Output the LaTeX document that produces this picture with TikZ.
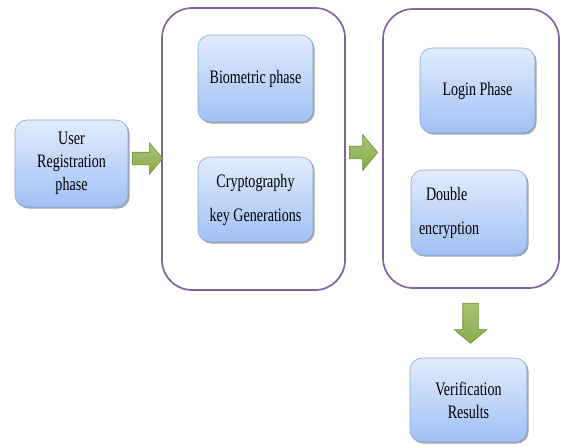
\documentclass[tikz,border=0pt]{standalone}
\usepackage{fontspec}
\newfontfamily\diagfont[FakeStretch=0.74]{Liberation Serif}
\usetikzlibrary{shapes.arrows,shadows}
\definecolor{boxtop}{RGB}{226,236,252}
\definecolor{boxbot}{RGB}{160,192,244}
\definecolor{boxline}{RGB}{132,166,214}
\definecolor{grpline}{RGB}{128,100,162}
\definecolor{arrfill}{RGB}{146,180,80}
\definecolor{arrline}{RGB}{110,138,52}
\tikzset{
  phasebox/.style={draw=boxline, line width=0.6pt, rounded corners=12pt,
    top color=boxtop, bottom color=boxbot, align=center,
    font=\diagfont\fontsize{19}{23}\selectfont,
    drop shadow={shadow xshift=1.6pt, shadow yshift=-1.6pt, opacity=0.35, fill=black}},
  group/.style={draw=grpline, line width=1.7pt, rounded corners=30pt},
  blockarrow/.style={single arrow, draw=arrline, line width=0.6pt,
    top color=arrfill!80!white, bottom color=arrfill!95!black,
    inner xsep=0pt, single arrow tip angle=100}
}
\begin{document}
\begin{tikzpicture}[x=1pt,y=-1pt]
  \useasboundingbox (0,0) rectangle (562,445);

  % grouping frames
  \draw[group] (162,8) rectangle (345,290);
  \draw[group] (383,9) rectangle (559,288);

  % phase boxes
  \node[phasebox, minimum width=113pt, minimum height=87pt] (reg) at (71.5,163.5)
    {User\\Registration\\phase};
  \node[phasebox, minimum width=115pt, minimum height=87pt] (bio) at (255.5,78.5)
    {Biometric phase};
  \node[phasebox, minimum width=115pt, minimum height=85pt] (key) at (255.5,199.5)
    {Cryptography\\[11pt]key Generations};
  \node[phasebox, minimum width=115pt, minimum height=85pt] (login) at (477.5,90.5)
    {Login Phase};
  \node[phasebox, text width=100pt, inner xsep=8pt, align=left, minimum height=85pt] (dbl) at (469,212.5)
    {\hspace*{7pt}Double\\[11pt]encryption};
  \node[phasebox, minimum width=117pt, minimum height=84pt] (ver) at (468.5,400)
    {Verification\\Results};

  % flow arrows
  \node[blockarrow, minimum height=30pt, inner ysep=6pt, single arrow head extend=9.5pt] (a1) at (145,158.5) {};
  \node[blockarrow, minimum height=28pt, inner ysep=6pt, single arrow head extend=11.5pt] (a2) at (361,152.5) {};
  \node[blockarrow, minimum height=40pt, inner xsep=7.5pt, inner ysep=0pt, single arrow head extend=8.5pt, shape border rotate=270] (a3) at (470.5,320) {};
\end{tikzpicture}
\end{document}
